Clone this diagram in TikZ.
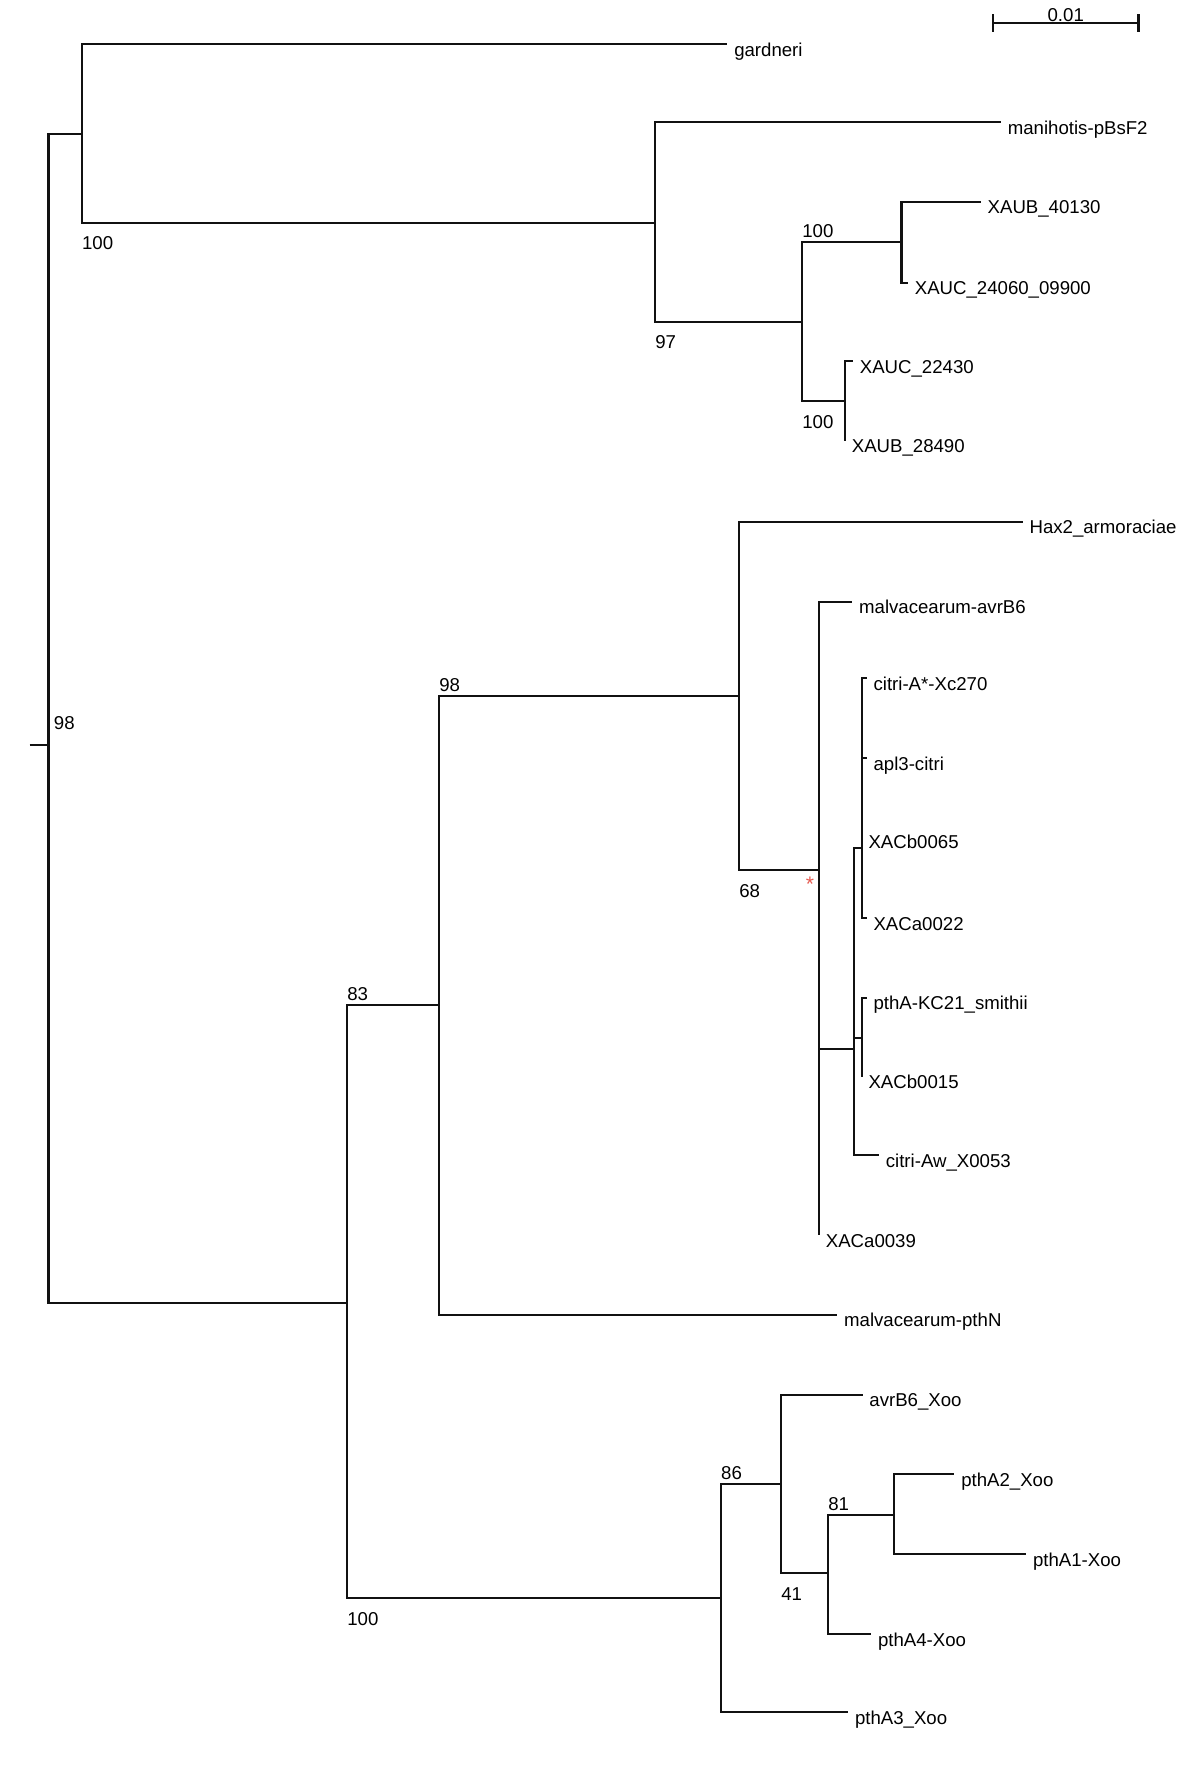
\documentclass[tikz,border=0pt]{standalone}
\usepackage{fontspec}
\setmainfont{Liberation Sans}
\usepackage{xcolor}
\usetikzlibrary{calc}
\definecolor{Ink}{HTML}{111111}
\definecolor{Star}{HTML}{E55A50}
\newcommand{\taxon}[4]{
  \coordinate (#1) at (#2,#3);
  \node[taxon] (#1-lab) at (#1) {#4};
}
\newcommand{\clade}[2]{
  \foreach \kid in {#2} {\draw[edge] (#1) |- (\kid);}
}
\newcommand{\boot}[3]{
  \node[#1] at (#2) {#3};
}

\begin{document}
\begin{tikzpicture}[x=0.02cm, y=-0.02cm,
    edge/.style={draw=Ink, line width=1.3pt},
    taxon/.style={anchor=base west, inner sep=0pt, xshift=0.13cm, yshift=-0.245cm,
      font=\fontsize{10.6}{12.7}\selectfont},
    bsup/.style={anchor=base west, inner sep=0pt, yshift=0.09cm,
      font=\fontsize{10.6}{12.7}\selectfont},
    bsdown/.style={anchor=base west, inner sep=0pt, yshift=-0.545cm,
      font=\fontsize{10.6}{12.7}\selectfont}]
  \useasboundingbox (0,0) rectangle (1200,1766);
  % internal nodes
  \coordinate (rs) at (29.5,745);
  \coordinate (r0) at (48.6,745);
  \coordinate (nA) at (81.7,133.7);
  \coordinate (nB) at (655,222.7);
  \coordinate (nC) at (802,321.7);
  \coordinate (nD) at (901.6,242);
  \coordinate (nE) at (845,401);
  \coordinate (n83) at (347,1303.3);
  \coordinate (n98) at (439,1005);
  \coordinate (nHax) at (739,695.7);
  \coordinate (nPoly) at (819,870);
  \coordinate (nCit) at (854,1049);
  \coordinate (nCitA) at (861.7,847.7);
  \coordinate (nKC) at (861.7,1038.3);
  \coordinate (nXoo) at (720.8,1598.3);
  \coordinate (n86) at (781,1483.7);
  \coordinate (n41) at (828,1573.3);
  \coordinate (n81) at (894.2,1515);
  % tips
  \taxon{gard}{727.4}{44}{gardneri}
  \taxon{mani}{1001}{122}{manihotis-pBsF2}
  \taxon{xaub40}{980.8}{201.7}{XAUB\_40130}
  \taxon{xauc24}{908}{282.7}{XAUC\_24060\_09900}
  \taxon{xauc22}{853}{361}{XAUC\_22430}
  \taxon{xaub28}{845}{440.7}{XAUB\_28490}
  \taxon{hax}{1022.7}{521.7}{Hax2\_armoraciae}
  \taxon{mavr}{852.3}{601.7}{malvacearum-avrB6}
  \taxon{citA}{866.7}{678.3}{citri-A*-Xc270}
  \taxon{apl}{866.7}{758.3}{apl3-citri}
  \taxon{xb65}{861.7}{836}{XACb0065}
  \taxon{xa22}{866.7}{918.3}{XACa0022}
  \taxon{kc21}{866.7}{997.7}{pthA-KC21\_smithii}
  \taxon{xb15}{861.7}{1076.7}{XACb0015}
  \taxon{citAw}{879}{1155}{citri-Aw\_X0053}
  \taxon{xa39}{819}{1235}{XACa0039}
  \taxon{mpth}{837.3}{1314.7}{malvacearum-pthN}
  \taxon{avrX}{862.6}{1394.7}{avrB6\_Xoo}
  \taxon{pA2}{954.4}{1474}{pthA2\_Xoo}
  \taxon{pA1}{1026.2}{1554.3}{pthA1-Xoo}
  \taxon{pA4}{871.2}{1634}{pthA4-Xoo}
  \taxon{pA3}{848.2}{1712}{pthA3\_Xoo}
  % branches
  \draw[edge] (rs) -- (r0);
  \clade{r0}{nA,n83}
  \clade{nA}{gard,nB}
  \clade{nB}{mani,nC}
  \clade{nC}{nD,nE}
  \clade{nD}{xaub40,xauc24}
  \clade{nE}{xauc22,xaub28}
  \clade{n83}{n98,nXoo}
  \clade{n98}{nHax,mpth}
  \clade{nHax}{hax,nPoly}
  \clade{nPoly}{mavr,nCit,xa39}
  \clade{nCit}{nCitA,nKC,citAw}
  \clade{nCitA}{citA,apl,xb65,xa22}
  \clade{nKC}{kc21,xb15}
  \clade{nXoo}{n86,pA3}
  \clade{n86}{avrX,n41}
  \clade{n41}{n81,pA4}
  \clade{n81}{pA2,pA1}
  % support values
  \node[bsup, xshift=0.1cm, yshift=0.23cm] (b0) at (r0) {98};
  \boot{bsdown}{nA |- nB}{100}
  \boot{bsdown}{nB |- nC}{97}
  \boot{bsup}{nC |- nD}{100}
  \boot{bsdown}{nC |- nE}{100}
  \boot{bsup}{n98 |- nHax}{98}
  \boot{bsdown}{nHax |- nPoly}{68}
  \boot{bsup}{n83 |- n98}{83}
  \boot{bsdown}{n83 |- nXoo}{100}
  \boot{bsup}{nXoo |- n86}{86}
  \boot{bsdown}{n86 |- n41}{41}
  \boot{bsup}{n41 |- n81}{81}
  \node[text=Star, anchor=base, inner sep=0pt, font=\fontsize{12}{14}\selectfont]
    (star) at (810,891) {*};
  % scale bar
  \coordinate (sb1) at (993,23.3);
  \coordinate (sb2) at (1138.5,23.3);
  \draw[edge] (sb1) -- (sb2);
  \draw[edge] ($(sb1)+(0,-9)$) -- ($(sb1)+(0,9)$);
  \draw[edge] ($(sb2)+(0,-9)$) -- ($(sb2)+(0,9)$);
  \node[anchor=base, inner sep=0pt, font=\fontsize{10.6}{12.7}\selectfont]
    (sblab) at ($(sb1)!0.5!(sb2)+(0,-1.5)$) {0.01};
\end{tikzpicture}
\end{document}
